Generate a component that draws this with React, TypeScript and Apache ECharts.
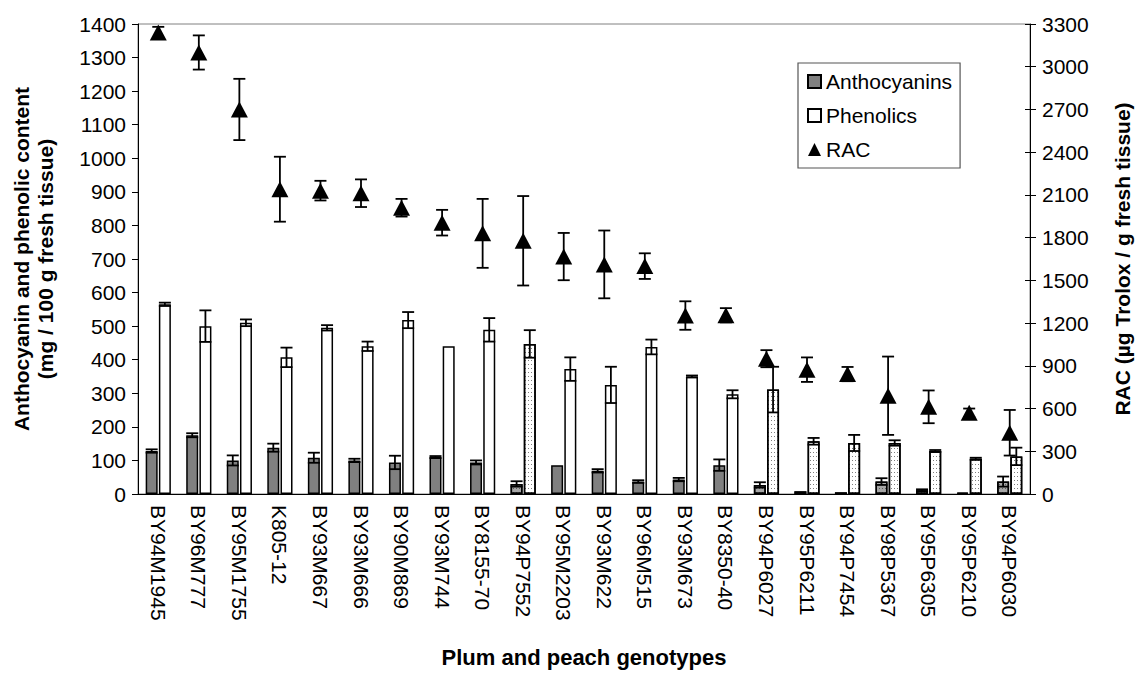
import React, { useEffect, useRef } from "react";
import * as echarts from "echarts";

const genotypes = [
  "BY94M1945", "BY96M777", "BY95M1755", "K805-12", "BY93M667", "BY93M666",
  "BY90M869", "BY93M744", "BY8155-70", "BY94P7552", "BY95M2203", "BY93M622",
  "BY96M515", "BY93M673", "BY8350-40", "BY94P6027", "BY95P6211", "BY94P7454",
  "BY98P5367", "BY95P6305", "BY95P6210", "BY94P6030",
];
const anthocyanins = [128, 175, 100, 138, 108, 100, 94, 110, 94, 30, 86, 69, 37, 43, 86, 27, 8, 5, 37, 11, 4, 37];
const anthocyaninErr = [5, 6, 15, 12, 15, 5, 20, 3, 6, 8, 0, 5, 4, 5, 17, 8, 0, 0, 10, 3, 0, 15];
const phenolics = [565, 500, 510, 407, 495, 440, 518, 440, 489, 447, 372, 325, 438, 350, 297, 311, 157, 152, 152, 128, 105, 112];
const phenolicErr = [5, 47, 10, 29, 8, 14, 24, 0, 35, 41, 35, 54, 22, 3, 12, 68, 10, 24, 8, 3, 3, 26];
const rac = [3240, 3100, 2700, 2140, 2130, 2112, 2010, 1905, 1830, 1778, 1667, 1612, 1600, 1253, 1255, 950, 873, 842, 690, 612, 570, 430];
const racErr = [40, 120, 215, 228, 69, 97, 62, 90, 242, 314, 166, 238, 90, 100, 50, 60, 86, 50, 275, 115, 30, 160];
const peachIdx = [9, 15, 16, 17, 18, 19, 20, 21];
const leftTicks = { min: 0, max: 1400, interval: 100 };
const rightTicks = { min: 0, max: 3300, interval: 300 };

const FONT = "Liberation Sans, Arial, Helvetica, sans-serif";
const TICK_FS = 21;

const dotDecal = (color: string) => ({
  symbol: "rect",
  symbolSize: 1,
  color,
  dashArrayX: [1, 2],
  dashArrayY: [1, 3],
  rotation: 0,
});

function errorSeries(name: string, values: number[], errs: number[], yAxisIndex: number, offset: number, capHalf: number) {
  const data = values.map((v, i) => [i, v - errs[i], v + errs[i], errs[i]]);
  return {
    name,
    type: "custom",
    yAxisIndex,
    z: 5,
    silent: true,
    encode: { x: 0, y: [1, 2] },
    data,
    renderItem: (params: any, api: any) => {
      const err = api.value(3);
      if (!err) return { type: "group", children: [] };
      const xi = api.value(0);
      const lo = api.coord([xi, api.value(1)]);
      const hi = api.coord([xi, api.value(2)]);
      const x = lo[0] + offset;
      const st = { stroke: "#000", lineWidth: 1.8 };
      return {
        type: "group",
        children: [
          { type: "line", shape: { x1: x, y1: hi[1], x2: x, y2: lo[1] }, style: st },
          { type: "line", shape: { x1: x - capHalf, y1: hi[1], x2: x + capHalf, y2: hi[1] }, style: st },
          { type: "line", shape: { x1: x - capHalf, y1: lo[1], x2: x + capHalf, y2: lo[1] }, style: st },
        ],
      };
    },
  };
}

export default function App() {
  const ref = useRef<HTMLDivElement>(null);
  useEffect(() => {
    if (!ref.current) return;
    const chart = echarts.init(ref.current, null, { renderer: "svg" });
    const barW = 12;
    const off = 6.6;
    const anthoData = anthocyanins.map((v, i) =>
      peachIdx.includes(i)
        ? { value: v, itemStyle: { color: "#a6a6a6", decal: dotDecal("rgba(0,0,0,0.45)") } }
        : v
    );
    const phenData = phenolics.map((v, i) =>
      peachIdx.includes(i) ? { value: v, itemStyle: { color: "#fff", decal: dotDecal("rgba(0,0,0,0.5)") } } : v
    );
    const plain = (v: number) => String(v);
    const option: any = {
      animation: false,
      backgroundColor: "#fff",
      textStyle: { fontFamily: FONT, color: "#000" },
      grid: { left: 138, right: 106, top: 24, bottom: 171, show: true, borderColor: "#808080", borderWidth: 1 },
      legend: {
        orient: "vertical",
        left: 798,
        top: 63,
        padding: [8, 8, 8, 9],
        itemGap: 13,
        itemWidth: 13,
        itemHeight: 13,
        borderColor: "#555",
        borderWidth: 1.2,
        backgroundColor: "#fff",
        textStyle: { fontSize: 21, fontFamily: FONT, color: "#000" },
        data: [
          { name: "Anthocyanins", icon: "rect" },
          { name: "Phenolics", icon: "rect" },
          { name: "RAC", icon: "triangle" },
        ],
      },
      xAxis: [
        {
          type: "category",
          data: genotypes,
          position: "bottom",
          name: "Plum and peach genotypes",
          nameLocation: "middle",
          nameGap: 152,
          nameTextStyle: { fontSize: 22, fontWeight: "bold", fontFamily: FONT, color: "#000" },
          axisLine: { lineStyle: { color: "#000", width: 1 } },
          axisTick: { length: 6, lineStyle: { color: "#000" } },
          axisLabel: { rotate: -90, fontSize: TICK_FS, fontFamily: FONT, color: "#000", margin: 11 },
        },
        {
          type: "category",
          data: genotypes,
          position: "bottom",
          axisLine: { show: false },
          axisTick: { inside: true, length: 5, lineStyle: { color: "#000" } },
          axisLabel: { show: false },
        },
      ],
      yAxis: [
        {
          type: "value",
          ...leftTicks,
          position: "left",
          name: "Anthocyanin and phenolic content\n(mg / 100 g fresh tissue)",
          nameLocation: "middle",
          nameRotate: 90,
          nameGap: 81,
          nameTextStyle: { fontSize: 21, fontWeight: "bold", fontFamily: FONT, color: "#000", lineHeight: 24 },
          axisLine: { show: true, lineStyle: { color: "#000", width: 1 } },
          axisTick: { show: true, length: 6, lineStyle: { color: "#000" } },
          axisLabel: { fontSize: TICK_FS, fontFamily: FONT, color: "#000", margin: 12, formatter: plain },
          splitLine: { show: false },
        },
        {
          type: "value",
          ...rightTicks,
          position: "right",
          name: "RAC (µg Trolox / g fresh tissue)",
          nameLocation: "middle",
          nameRotate: 90,
          nameGap: 82,
          nameTextStyle: { fontSize: 21, fontWeight: "bold", fontFamily: FONT, color: "#000" },
          axisLine: { show: true, lineStyle: { color: "#000", width: 1 } },
          axisTick: { show: true, length: 6, lineStyle: { color: "#000" } },
          axisLabel: { fontSize: TICK_FS, fontFamily: FONT, color: "#000", margin: 12, formatter: plain },
          splitLine: { show: false },
        },
        {
          type: "value",
          ...rightTicks,
          position: "right",
          axisLine: { show: false },
          axisTick: { show: true, inside: true, length: 5, lineStyle: { color: "#000" } },
          axisLabel: { show: false },
          splitLine: { show: false },
        },
      ],
      series: [
        {
          name: "Anthocyanins",
          type: "bar",
          yAxisIndex: 0,
          barWidth: barW,
          barGap: "10%",
          itemStyle: { color: "#808080", borderColor: "#000", borderWidth: 1.5 },
          data: anthoData,
        },
        {
          name: "Phenolics",
          type: "bar",
          yAxisIndex: 0,
          barWidth: barW,
          itemStyle: { color: "#fff", borderColor: "#000", borderWidth: 1.5 },
          data: phenData,
        },
        errorSeries("anthoErr", anthocyanins, anthocyaninErr, 0, -off, 6),
        errorSeries("phenErr", phenolics, phenolicErr, 0, off, 6),
        errorSeries("racErr", rac, racErr, 1, 0, 6),
        {
          name: "RAC",
          type: "scatter",
          yAxisIndex: 1,
          symbol: "triangle",
          symbolSize: [17, 16],
          z: 6,
          itemStyle: { color: "#000", opacity: 1 },
          data: rac,
        },
      ],
    };
    chart.setOption(option);
    return () => chart.dispose();
  }, []);
  return (
    <div
      ref={ref}
      style={{ position: "absolute", left: 0, top: 0, width: 1141, height: 673, background: "#fff" }}
    />
  );
}
